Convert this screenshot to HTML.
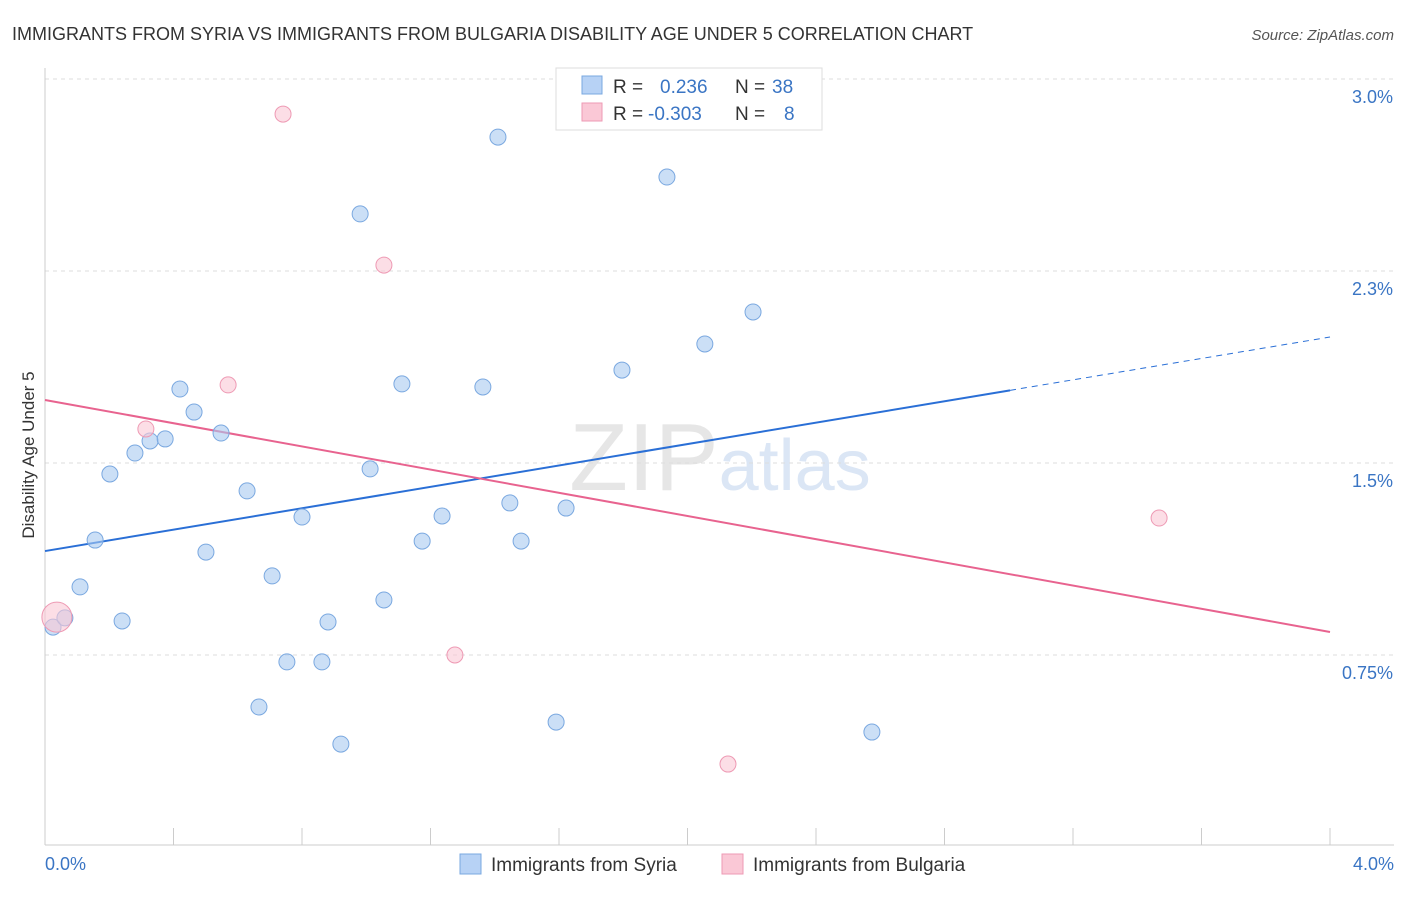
<!DOCTYPE html>
<html><head><meta charset="utf-8"><style>
body{margin:0;background:#fff;font-family:"Liberation Sans",sans-serif;}
svg text{font-family:"Liberation Sans",sans-serif;}
</style></head><body>
<svg id="chart" width="1406" height="892" viewBox="0 0 1406 892" xmlns="http://www.w3.org/2000/svg">
<text x="12" y="40" font-size="18" fill="#333">IMMIGRANTS FROM SYRIA VS IMMIGRANTS FROM BULGARIA DISABILITY AGE UNDER 5 CORRELATION CHART</text>
<text x="1394" y="40" font-size="15" fill="#555" text-anchor="end" font-style="italic">Source: ZipAtlas.com</text>
<text x="720" y="490" font-size="96" text-anchor="middle" fill="#e6e6e6" font-family="Liberation Serif">ZIP<tspan fill="#dbe6f5" font-family="Liberation Sans" font-size="72">atlas</tspan></text>
<g id="grid"></g>
<g id="axes"></g>
<g id="lines"></g>
<g id="points"></g>
<text transform="translate(34,455) rotate(-90)" font-size="17" fill="#333" text-anchor="middle">Disability Age Under 5</text>
<text x="45" y="870" font-size="18" fill="#3a75c4">0.0%</text>
<text x="1394" y="870" font-size="18" fill="#3a75c4" text-anchor="end">4.0%</text>
<g>
<rect x="556" y="68" width="266" height="62" fill="#fff" stroke="#ddd"/>
<rect x="582" y="76" width="20" height="18" fill="#b7d2f5" stroke="#7aa8e0"/>
<rect x="582" y="103" width="20" height="18" fill="#fac8d6" stroke="#ee9ab4"/>
<text x="613" y="93" font-size="19" fill="#333">R = <tspan fill="#3a75c4" x="660">0.236</tspan><tspan x="735">N = </tspan><tspan fill="#3a75c4" x="772">38</tspan></text>
<text x="613" y="120" font-size="19" fill="#333">R = <tspan fill="#3a75c4" x="648">-0.303</tspan><tspan x="735">N = </tspan><tspan fill="#3a75c4" x="784">8</tspan></text>
</g>
<g>
<rect x="460" y="854" width="21" height="20" fill="#b7d2f5" stroke="#7aa8e0"/>
<text x="491" y="871" font-size="19" fill="#333">Immigrants from Syria</text>
<rect x="722" y="854" width="21" height="20" fill="#fac8d6" stroke="#ee9ab4"/>
<text x="753" y="871" font-size="19" fill="#333">Immigrants from Bulgaria</text>
</g>
</svg>
<script>
const syriaX=[0.025,0.062,0.109,0.156,0.202,0.240,0.280,0.327,0.374,0.420,0.464,0.501,0.548,0.629,0.666,0.707,0.753,0.800,0.862,0.881,0.921,0.981,1.012,1.055,1.111,1.174,1.236,1.363,1.410,1.447,1.482,1.591,1.622,1.796,1.936,2.054,2.204,2.574];
const syriaY=[0.859,0.895,1.016,1.199,1.457,0.883,1.539,1.586,1.594,1.789,1.699,1.152,1.617,1.391,0.547,1.059,0.723,1.289,0.723,0.879,0.402,2.473,1.477,0.965,1.809,1.195,1.293,1.797,2.773,1.344,1.195,0.488,1.324,1.863,2.617,1.965,2.090,0.449];
const bulgX=[0.037,0.314,0.570,0.741,1.055,1.276,2.126,3.468];
const bulgY=[0.898,1.633,1.805,2.863,2.273,0.750,0.324,1.285];
const bulgR=[15,8,8,8,8,8,8,8];
const yTicks=[0.75,1.5,2.25,3.0];
const yTickLabels=["0.75%","1.5%","2.3%","3.0%"];
const xTicks=[0,0.4,0.8,1.2,1.6,2.0,2.4,2.8,3.2,3.6,4.0];
const syriaTrend=[1.156,1.992];
const syriaSolidEnd=3.004;
const bulgTrend=[1.746,0.840];
const X=v=>45+v*321.25, Y=v=>847-v*256;
const NS="http://www.w3.org/2000/svg";
function mk(tag,attrs,parent){const e=document.createElementNS(NS,tag);for(const k in attrs)e.setAttribute(k,attrs[k]);document.getElementById(parent).appendChild(e);return e;}
yTicks.forEach((t,i)=>{
 const g=mk('line',{x1:45,x2:1394,y1:Y(t),y2:Y(t),stroke:'#ddd','stroke-dasharray':'4,4'},'grid');
 
 
 const l=mk('text',{x:1393,y:Y(t)+24,'font-size':18,fill:'#3a75c4','text-anchor':'end'},'grid');
 l.textContent=yTickLabels[i];
 
 
});
const ax=mk('line',{x1:45,x2:1394,y1:845,y2:845,stroke:'#ccc'},'axes');


const ay=mk('line',{x1:45,x2:45,y1:68,y2:845,stroke:'#ccc'},'axes');


xTicks.forEach(t=>{
 const e=mk('line',{x1:X(t),x2:X(t),y1:828,y2:845,stroke:'#ccc'},'axes');
 
 
});
const sv=x=>syriaTrend[0]+(syriaTrend[1]-syriaTrend[0])*x/4;
const t1=mk('line',{x1:X(0),y1:Y(sv(0)),x2:X(syriaSolidEnd),y2:Y(sv(syriaSolidEnd)),stroke:'#2a6fd6','stroke-width':2},'lines');


const t2=mk('line',{x1:X(syriaSolidEnd),y1:Y(sv(syriaSolidEnd)),x2:X(4),y2:Y(sv(4)),stroke:'#2a6fd6','stroke-width':1,'stroke-dasharray':'6,5'},'lines');


const t3=mk('line',{x1:X(0),y1:Y(bulgTrend[0]),x2:X(4),y2:Y(bulgTrend[1]),stroke:'#e8638f','stroke-width':2},'lines');


syriaX.forEach((x,i)=>{
 const c=mk('circle',{cx:X(x),cy:Y(syriaY[i]),r:8,fill:'rgba(169,201,240,0.6)',stroke:'#7aa8e0','stroke-width':1},'points');
 
 
});
bulgX.forEach((x,i)=>{
 const c=mk('circle',{cx:X(x),cy:Y(bulgY[i]),r:bulgR[i],fill:'rgba(250,200,214,0.6)',stroke:'#ee9ab4','stroke-width':1},'points');
 
 
});
</script>
</body></html>
